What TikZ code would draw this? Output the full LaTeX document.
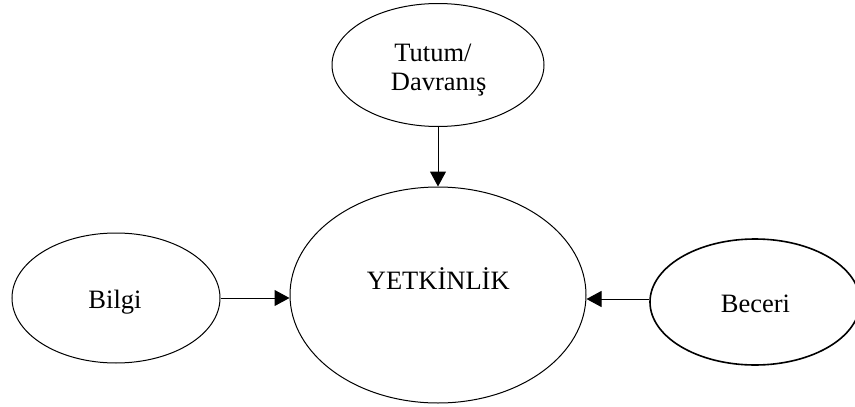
\documentclass[tikz,border=0pt]{standalone}
\usepackage{fontspec}
\setmainfont{Liberation Serif}
\usetikzlibrary{shapes.geometric,arrows.meta}
\begin{document}
\begin{tikzpicture}[x=1pt,y=-1pt,
  oval/.style={draw,ellipse,inner sep=0pt,line width=1pt},
  lbl/.style={anchor=base,inner sep=0pt,font=\fontsize{26.5}{29}\selectfont},
  arr/.style={line width=1pt,-{Triangle[length=15pt,width=16pt]}}]
  \useasboundingbox (0,0) rectangle (855,407);
  % ellipses
  \node[oval,minimum width=212pt,minimum height=123pt] (tutum) at (438,65) {};
  \node[oval,minimum width=296pt,minimum height=216pt] (yet) at (438,295) {};
  \node[oval,minimum width=208pt,minimum height=130pt] (bilgi) at (116,298) {};
  \node[oval,line width=1.6pt,minimum width=210pt,minimum height=126pt] (beceri) at (755,302) {};
  % texts
  \node[lbl] (t1) at (433,61.7) {Tutum/};
  \node[lbl] (t2) at (438.7,90.7) {Davranış};
  \node[lbl] (t3) at (438.3,289) {YETKİNLİK};
  \node[lbl] (t4) at (115,308.3) {Bilgi};
  \node[lbl] (t5) at (755.5,312) {Beceri};
  % arrows
  \coordinate (bl) at (bilgi.east);
  \coordinate (bc) at (beceri.west |- 0,299);
  \draw[arr] (tutum.south) -- (yet.north);
  \draw[arr] (bl) -- (bl -| yet.west);
  \draw[arr] (bc) -- (bc -| yet.east);
\end{tikzpicture}
\end{document}
